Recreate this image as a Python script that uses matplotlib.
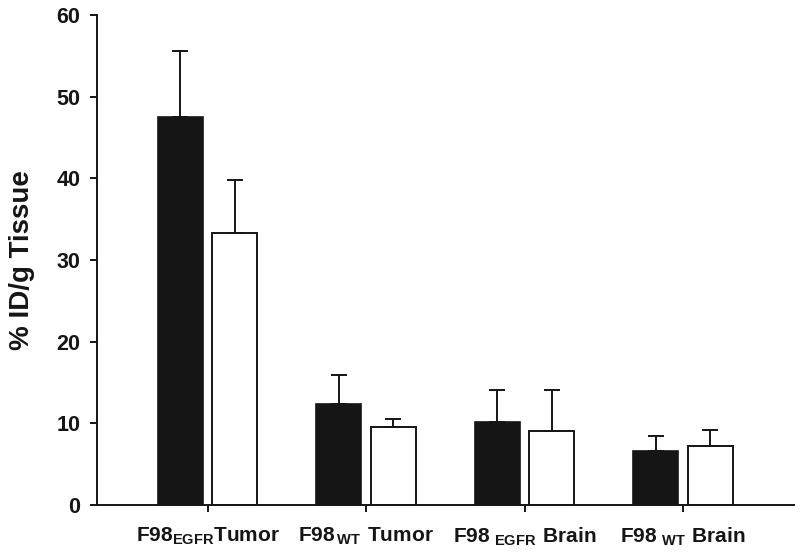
import matplotlib
matplotlib.use('Agg')
import matplotlib.pyplot as plt
import numpy as np

# tissue groups, tick labels in mathtext for the subscripts
groups = ['EGFR Tumor', 'WT Tumor', 'EGFR Brain', 'WT Brain']
tickLabels = [r'$\mathbf{F98_{EGFR}Tumor}$',
              r'$\mathbf{F98_{\,WT}\ Tumor}$',
              r'$\mathbf{F98_{\ EGFR}\ Brain}$',
              r'$\mathbf{F98_{\ WT}\ Brain}$']

# % ID/g values
blackMeans = [47.5, 12.4, 10.2, 6.6]
blackErr = [8.1, 3.5, 3.9, 1.8]
whiteMeans = [33.3, 9.5, 9.1, 7.2]
whiteErr = [6.5, 1.0, 5.0, 1.95]

yTicks = [0, 10, 20, 30, 40, 50, 60]

plt.rcParams['font.family'] = ['Liberation Sans', 'DejaVu Sans']
plt.rcParams['font.weight'] = 'bold'
plt.rcParams['mathtext.fontset'] = 'custom'
plt.rcParams['mathtext.bf'] = 'Liberation Sans:bold'
plt.rcParams['mathtext.rm'] = 'Liberation Sans:bold'

fig = plt.figure(figsize=(8, 5.54), dpi=100)
ax = fig.add_axes([0.121, 0.0884, 0.8715, 0.8846])

position = np.arange(len(groups))
width = 0.284
offset = 0.172
dark = '#151515'

# error bars only go up
ax.bar(position - offset, blackMeans, width, color=dark, edgecolor=dark,
       linewidth=1.2, yerr=[np.zeros(len(blackErr)), blackErr],
       error_kw=dict(ecolor=dark, elinewidth=1.4, capsize=6, capthick=1.4),
       zorder=2)
ax.bar(position + offset, whiteMeans, width, color='white', edgecolor=dark,
       linewidth=1.4, yerr=[np.zeros(len(whiteErr)), whiteErr],
       error_kw=dict(ecolor=dark, elinewidth=1.4, capsize=6, capthick=1.4),
       zorder=2)

ax.set_xlim(-0.7, 3.7)
ax.set_ylim(0, 60)
ax.set_yticks(yTicks)
ax.set_yticklabels([str(t) for t in yTicks], fontsize=15.5, fontweight='bold')
ax.set_xticks(position)
ax.set_xticklabels(tickLabels, fontsize=15)

ax.spines['top'].set_visible(False)
ax.spines['right'].set_visible(False)
for s in ['left', 'bottom']:
    ax.spines[s].set_linewidth(1.4)
    ax.spines[s].set_color(dark)

ax.tick_params(axis='y', direction='out', length=5, width=1.4, pad=7,
               colors=dark)
ax.tick_params(axis='x', direction='out', length=5, width=1.4, pad=10,
               colors=dark)

ax.set_ylabel('% ID/g Tissue', fontsize=20, fontweight='bold', labelpad=15,
              color=dark)

fig.savefig('out.png', dpi=100)
